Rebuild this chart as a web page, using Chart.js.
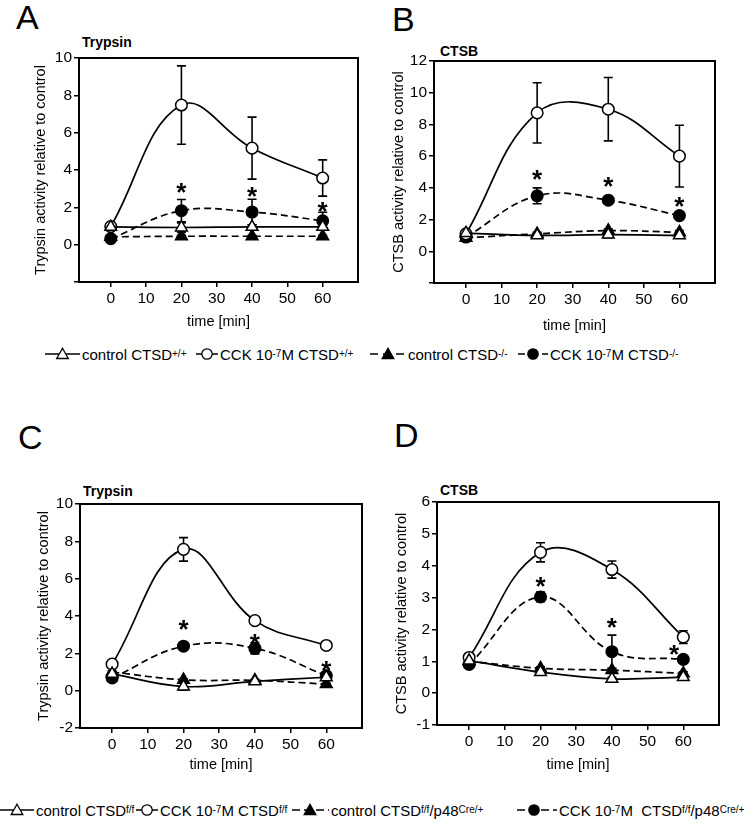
<!DOCTYPE html>
<html>
<head>
<meta charset="utf-8">
<script src="https://cdn.jsdelivr.net/npm/chart.js@4.4.0/dist/chart.umd.min.js"></script>
<style>
  body { margin: 0; background: #fff; font-family: "Liberation Sans", Arial, sans-serif; color: #000; }
  #page { position: relative; width: 745px; height: 824px; overflow: hidden; background: #fff; }
  canvas { position: absolute; }
  .letter { position: absolute; font-size: 34px; line-height: 34px; }
  .ptitle { position: absolute; font-size: 14px; font-weight: bold; line-height: 14px; }
  .item { position: absolute; height: 18px; display: flex; align-items: center; font-size: 15px; white-space: nowrap; }
  .item svg { margin-right: 2px; }
  sup { font-size: 10px; vertical-align: 5px; line-height: 0; }
</style>
</head>
<body>
<div id="page">
  <div class="letter" style="left:16px;top:0px">A</div>
  <div class="letter" style="left:392px;top:2px">B</div>
  <div class="letter" style="left:18px;top:420px">C</div>
  <div class="letter" style="left:394px;top:418px">D</div>

  <div class="ptitle" style="left:82px;top:35px">Trypsin</div>
  <div class="ptitle" style="left:440px;top:44px">CTSB</div>
  <div class="ptitle" style="left:83px;top:484px">Trypsin</div>
  <div class="ptitle" style="left:440px;top:483px">CTSB</div>

  <canvas id="chartA" width="370" height="289" style="left:0px;top:46px"></canvas>
  <canvas id="chartB" width="355" height="290" style="left:372px;top:49px"></canvas>
  <canvas id="chartC" width="374" height="286" style="left:0px;top:492px"></canvas>
  <canvas id="chartD" width="359" height="288" style="left:372px;top:490px"></canvas>

  <!-- legend for A and B -->
  <div class="item" style="left:45px;top:345px">
    <svg width="35" height="14"><line x1="0" y1="7" x2="35" y2="7" stroke="#000" stroke-width="1.5"/><polygon points="17.5,1.2 23.3,11.5 11.7,11.5" fill="#fff" stroke="#000" stroke-width="1.3"/></svg>control CTSD<sup>+/+</sup>
  </div>
  <div class="item" style="left:196px;top:345px">
    <svg width="22" height="14"><line x1="0" y1="7" x2="22" y2="7" stroke="#000" stroke-width="1.5"/><circle cx="11" cy="7" r="5.2" fill="#fff" stroke="#000" stroke-width="1.3"/></svg>CCK 10<sup>-7</sup> M CTSD<sup>+/+</sup>
  </div>
  <div class="item" style="left:370px;top:345px">
    <svg width="36" height="14"><line x1="0" y1="7" x2="36" y2="7" stroke="#000" stroke-width="1.5" stroke-dasharray="8,5"/><polygon points="18,1.2 23.8,11.5 12.2,11.5" fill="#000" stroke="#000" stroke-width="1.3"/></svg>control CTSD<sup>-/-</sup>
  </div>
  <div class="item" style="left:518px;top:345px">
    <svg width="30" height="14"><line x1="0" y1="7" x2="30" y2="7" stroke="#000" stroke-width="1.5" stroke-dasharray="7,5"/><circle cx="15" cy="7" r="5.2" fill="#000" stroke="#000" stroke-width="1.3"/></svg>CCK 10<sup>-7</sup> M CTSD<sup>-/-</sup>
  </div>

  <!-- legend for C and D -->
  <div class="item" style="left:0px;top:801px">
    <svg width="34" height="14"><line x1="0" y1="7" x2="34" y2="7" stroke="#000" stroke-width="1.5"/><polygon points="17,1.2 22.8,11.5 11.2,11.5" fill="#fff" stroke="#000" stroke-width="1.3"/></svg>control CTSD<sup>f/f</sup>
  </div>
  <div class="item" style="left:136px;top:801px">
    <svg width="22" height="14"><line x1="0" y1="7" x2="22" y2="7" stroke="#000" stroke-width="1.5"/><circle cx="11" cy="7" r="5.2" fill="#fff" stroke="#000" stroke-width="1.3"/></svg>CCK 10<sup>-7</sup> M CTSD<sup>f/f</sup>
  </div>
  <div class="item" style="left:292px;top:801px">
    <svg width="37" height="14"><line x1="0" y1="7" x2="37" y2="7" stroke="#000" stroke-width="1.5" stroke-dasharray="8,4"/><polygon points="18,1.2 23.8,11.5 12.2,11.5" fill="#000" stroke="#000" stroke-width="1.3"/></svg>control CTSD<sup>f/f</sup>/p48<sup>Cre/+</sup>
  </div>
  <div class="item" style="left:517px;top:801px">
    <svg width="40" height="14"><line x1="0" y1="7" x2="40" y2="7" stroke="#000" stroke-width="1.5" stroke-dasharray="8,4"/><circle cx="17" cy="7" r="5.2" fill="#000" stroke="#000" stroke-width="1.3"/></svg>CCK 10<sup>-7</sup> M&nbsp; CTSD<sup>f/f</sup>/p48<sup>Cre/+</sup>
  </div>
</div>

<script>
// time points and axis ticks
const times = [0, 20, 40, 60];
const xTicks = [0, 10, 20, 30, 40, 50, 60];

// A - trypsin, CTSD+/+ vs CTSD-/-
const aCtrlWt = [0.95, 0.92, 0.95, 0.95];
const aCtrlWtErr = [0.05, 0.25, 0.12, 0.1];
const aCckWt = [0.97, 7.48, 5.17, 3.57];
const aCckWtErr = [0.1, 2.1, 1.66, 0.97];
const aCtrlKo = [0.42, 0.45, 0.45, 0.45];
const aCtrlKoErr = [0.05, 0.05, 0.05, 0.05];
const aCckKo = [0.32, 1.82, 1.75, 1.28];
const aCckKoErr = [0.08, 0.6, 0.68, 0.46];
const aStarX = [20, 40, 60];
const aStarY = [3.12, 2.91, 2.15];
const aYTicks = [-2, 0, 2, 4, 6, 8, 10];

// B - CTSB, CTSD+/+ vs CTSD-/-
const bCtrlWt = [1.15, 1.0, 1.05, 1.0];
const bCtrlWtErr = [0.1, 0.15, 0.2, 0.1];
const bCckWt = [1.1, 8.73, 8.96, 6.0];
const bCckWtErr = [0.1, 1.9, 2.0, 1.95];
const bCtrlKo = [0.85, 1.1, 1.3, 1.2];
const bCtrlKoErr = [0.05, 0.1, 0.1, 0.1];
const bCckKo = [0.9, 3.5, 3.22, 2.25];
const bCckKoErr = [0.1, 0.5, 0.15, 0.12];
const bStarX = [20, 40, 60];
const bStarY = [4.92, 4.5, 3.25];
const bYTicks = [-2, 0, 2, 4, 6, 8, 10, 12];

// C - trypsin, CTSDf/f vs CTSDf/f/p48Cre/+
const cCtrlFF = [0.9, 0.22, 0.5, 0.72];
const cCtrlFFErr = [0.05, 0.2, 0.05, 0.05];
const cCckFF = [1.42, 7.57, 3.75, 2.42];
const cCckFFErr = [0.1, 0.63, 0.12, 0.1];
const cCtrlCre = [1.0, 0.58, 0.55, 0.35];
const cCtrlCreErr = [0.05, 0.05, 0.05, 0.05];
const cCckCre = [0.68, 2.38, 2.27, 0.8];
const cCckCreErr = [0.05, 0.12, 0.3, 0.12];
const cStarX = [20, 40, 60];
const cStarY = [3.6, 2.9, 1.43];
const cYTicks = [-2, 0, 2, 4, 6, 8, 10];

// D - CTSB, CTSDf/f vs CTSDf/f/p48Cre/+
const dCtrlFF = [1.02, 0.66, 0.45, 0.5];
const dCtrlFFErr = [0.05, 0.05, 0.05, 0.05];
const dCckFF = [1.12, 4.42, 3.88, 1.76];
const dCckFFErr = [0.08, 0.3, 0.27, 0.2];
const dCtrlCre = [1.0, 0.78, 0.72, 0.62];
const dCtrlCreErr = [0.05, 0.05, 0.05, 0.05];
const dCckCre = [0.9, 3.02, 1.3, 1.06];
const dCckCreErr = [0.05, 0.15, 0.52, 0.08];
const dStarX = [20, 40, 57.4];
const dStarY = [3.55, 2.25, 1.41];
const dYTicks = [-1, 0, 1, 2, 3, 4, 5, 6];

Chart.defaults.font.family = '"Liberation Sans", Arial, sans-serif';
Chart.defaults.color = '#000';

// open/filled triangle or circle, solid or dashed line
function makeDataset(values, errors, kind) {
  const filled = kind === 'ctrlKo' || kind === 'cckKo';
  const tri = kind === 'ctrl' || kind === 'ctrlKo';
  return {
    data: values.map((v, i) => ({ x: times[i], y: v })),
    errors: errors,
    borderColor: '#000',
    borderWidth: 1.7,
    borderDash: filled ? [7, 4] : [],
    tension: 0.4,
    fill: false,
    pointStyle: tri ? 'triangle' : 'circle',
    pointRadius: tri ? 6.8 : 5.8,
    pointBackgroundColor: filled ? '#000' : '#fff',
    pointBorderColor: '#000',
    pointBorderWidth: 1.5
  };
}

// error bars, frame and asterisks
const extras = {
  id: 'extras',
  beforeDatasetsDraw(chart) {
    const ctx = chart.ctx, xs = chart.scales.x, ys = chart.scales.y;
    ctx.save();
    ctx.strokeStyle = '#000';
    ctx.lineWidth = 1.6;
    chart.data.datasets.forEach(ds => {
      ds.data.forEach((pt, i) => {
        const e = ds.errors[i];
        if (!e) return;
        const px = xs.getPixelForValue(pt.x);
        const y1 = ys.getPixelForValue(pt.y - e);
        const y2 = ys.getPixelForValue(pt.y + e);
        ctx.beginPath();
        ctx.moveTo(px, y1); ctx.lineTo(px, y2);
        ctx.moveTo(px - 4.5, y1); ctx.lineTo(px + 4.5, y1);
        ctx.moveTo(px - 4.5, y2); ctx.lineTo(px + 4.5, y2);
        ctx.stroke();
      });
    });
    ctx.restore();
  },
  afterDatasetsDraw(chart, args, opts) {
    const ctx = chart.ctx, a = chart.chartArea;
    ctx.save();
    ctx.strokeStyle = '#000';
    ctx.lineWidth = 2;
    ctx.strokeRect(a.left, a.top, a.right - a.left, a.bottom - a.top);
    ctx.fillStyle = '#000';
    ctx.font = 'bold 26px "Liberation Sans", Arial, sans-serif';
    ctx.textAlign = 'center';
    ctx.textBaseline = 'alphabetic';
    opts.starX.forEach((sx, i) => {
      ctx.fillText('*', chart.scales.x.getPixelForValue(sx), chart.scales.y.getPixelForValue(opts.starY[i]) + 15);
    });
    ctx.restore();
  }
};

function makePanel(id, datasets, p) {
  return new Chart(document.getElementById(id), {
    type: 'line',
    data: { datasets: datasets },
    plugins: [extras],
    options: {
      responsive: false,
      animation: false,
      devicePixelRatio: 1,
      layout: { padding: { left: 0, top: 12, right: 12, bottom: 0 } },
      plugins: {
        legend: { display: false },
        tooltip: { enabled: false },
        extras: { starX: p.starX, starY: p.starY }
      },
      scales: {
        x: {
          type: 'linear',
          min: -9,
          max: 70,
          afterBuildTicks: axis => { axis.ticks = xTicks.map(v => ({ value: v })); },
          afterFit: s => { s.height = p.xH; },
          grid: { drawOnChartArea: false, drawTicks: true, tickLength: 5, color: '#000', lineWidth: 1.5 },
          border: { display: true, color: '#000', width: 2 },
          ticks: { color: '#000', font: { size: 15.5 }, padding: 2, maxRotation: 0, autoSkip: false },
          title: { display: true, text: 'time [min]', color: '#000', font: { size: 14.5 }, padding: { top: 0, bottom: 4 } }
        },
        y: {
          type: 'linear',
          min: p.yMin,
          max: p.yMax,
          afterBuildTicks: axis => { axis.ticks = p.yTicks.map(v => ({ value: v })); },
          afterFit: s => { s.width = p.yW; },
          grid: { drawOnChartArea: false, drawTicks: true, tickLength: 5, color: '#000', lineWidth: 1.5 },
          border: { display: true, color: '#000', width: 2 },
          ticks: {
            color: '#000', font: { size: 15.5 }, padding: 2, autoSkip: false,
            callback: v => (p.hideBottom && v === p.yMin) ? '' : String(v)
          },
          title: { display: true, text: p.yTitle, color: '#000', font: { size: 14.5 }, padding: { top: p.yTitlePad, bottom: 0 } }
        }
      }
    }
  });
}

makePanel('chartA', [
  makeDataset(aCtrlWt, aCtrlWtErr, 'ctrl'),
  makeDataset(aCckWt, aCckWtErr, 'cck'),
  makeDataset(aCtrlKo, aCtrlKoErr, 'ctrlKo'),
  makeDataset(aCckKo, aCckKoErr, 'cckKo')
], { yMin: -2, yMax: 10, yTicks: aYTicks, hideBottom: true, yTitle: 'Trypsin activity relative to control',
     yW: 79, xH: 53, yTitlePad: 31.8, starX: aStarX, starY: aStarY });

makePanel('chartB', [
  makeDataset(bCtrlWt, bCtrlWtErr, 'ctrl'),
  makeDataset(bCckWt, bCckWtErr, 'cck'),
  makeDataset(bCtrlKo, bCtrlKoErr, 'ctrlKo'),
  makeDataset(bCckKo, bCckKoErr, 'cckKo')
], { yMin: -2, yMax: 12, yTicks: bYTicks, hideBottom: true, yTitle: 'CTSB activity relative to control',
     yW: 62, xH: 56, yTitlePad: 18.3, starX: bStarX, starY: bStarY });

makePanel('chartC', [
  makeDataset(cCtrlFF, cCtrlFFErr, 'ctrl'),
  makeDataset(cCckFF, cCckFFErr, 'cck'),
  makeDataset(cCtrlCre, cCtrlCreErr, 'ctrlKo'),
  makeDataset(cCckCre, cCckCreErr, 'cckKo')
], { yMin: -2, yMax: 10, yTicks: cYTicks, hideBottom: false, yTitle: 'Trypsin activity relative to control',
     yW: 80, xH: 50, yTitlePad: 34.8, starX: cStarX, starY: cStarY });

makePanel('chartD', [
  makeDataset(dCtrlFF, dCtrlFFErr, 'ctrl'),
  makeDataset(dCckFF, dCckFFErr, 'cck'),
  makeDataset(dCtrlCre, dCtrlCreErr, 'ctrlKo'),
  makeDataset(dCckCre, dCckCreErr, 'cckKo')
], { yMin: -1, yMax: 6, yTicks: dYTicks, hideBottom: false, yTitle: 'CTSB activity relative to control',
     yW: 65, xH: 53, yTitlePad: 20.8, starX: dStarX, starY: dStarY });
</script>
</body>
</html>
